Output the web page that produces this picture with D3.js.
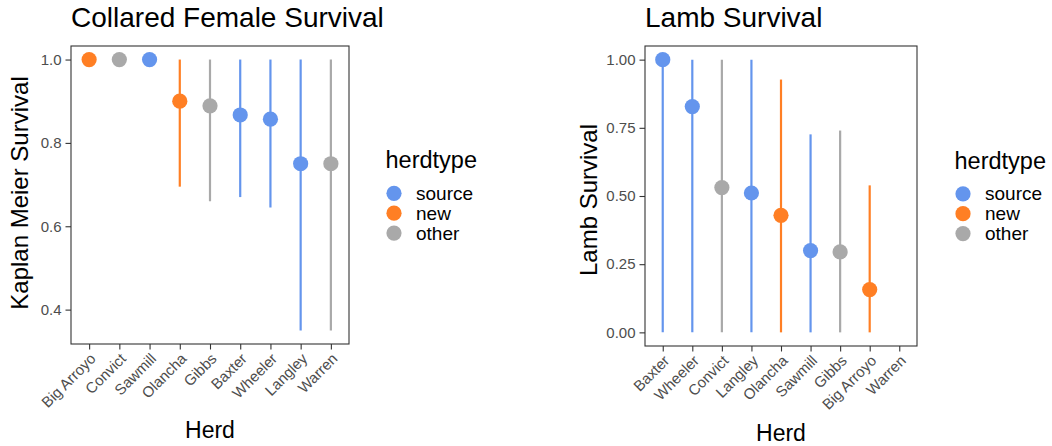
<!DOCTYPE html>
<html>
<head>
<meta charset="utf-8">
<script src="https://cdn.jsdelivr.net/npm/d3@7"></script>
<style>
  body { margin: 0; background: #fff; }
  svg { font-family: "Liberation Sans", Arial, sans-serif; }
</style>
</head>
<body>
<svg id="chart" width="1052" height="446"></svg>
<script>
// collared female survival (Kaplan Meier)
var femaleHerds = ["Big Arroyo", "Convict", "Sawmill", "Olancha", "Gibbs", "Baxter", "Wheeler", "Langley", "Warren"];
var femaleType = ["new", "other", "source", "new", "other", "source", "source", "source", "other"];
var femaleSurv = [1.0, 1.0, 1.0, 0.90, 0.889, 0.867, 0.857, 0.75, 0.75];
var femaleLower = [1.0, 1.0, 1.0, 0.695, 0.66, 0.67, 0.645, 0.35, 0.35];
var femaleUpper = [1.0, 1.0, 1.0, 1.0, 1.0, 1.0, 1.0, 1.0, 1.0];
var femaleTicks = [0.4, 0.6, 0.8, 1.0];

// lamb survival (Warren has no estimate)
var lambHerds = ["Baxter", "Wheeler", "Convict", "Langley", "Olancha", "Sawmill", "Gibbs", "Big Arroyo", "Warren"];
var lambType = ["source", "source", "other", "source", "new", "source", "other", "new", "other"];
var lambSurv = [1.0, 0.828, 0.531, 0.511, 0.429, 0.30, 0.295, 0.157, null];
var lambLower = [0, 0, 0, 0, 0, 0, 0, 0, null];
var lambUpper = [1.0, 1.0, 1.0, 1.0, 0.927, 0.726, 0.74, 0.539, null];
var lambTicks = [0, 0.25, 0.5, 0.75, 1.0];

var herdTypes = ["source", "new", "other"];
var typeColors = ["#6495ED", "#FF7F24", "#A9A9A9"];

var color = d3.scaleOrdinal().domain(herdTypes).range(typeColors);
var svg = d3.select("#chart");

function panel(opt) {
  var rows = opt.herds.map((h, i) => ({
    herd: h, type: opt.type[i], surv: opt.surv[i], lo: opt.lower[i], hi: opt.upper[i]
  }));

  var x = d3.scalePoint()
      .domain(opt.herds)
      .range([opt.left, opt.right])
      .padding(0.6);

  var lo = d3.min(rows, d => d.lo), hi = d3.max(rows, d => d.hi);
  var pad = (hi - lo) * 0.05;
  var y = d3.scaleLinear()
      .domain([lo - pad, hi + pad])
      .range([opt.bottom, opt.top]);

  var g = svg.append("g");

  // title
  g.append("text")
      .attr("x", opt.left).attr("y", 27)
      .style("font-size", "28px")
      .text(opt.title);

  // y axis
  var yAxis = g.append("g")
      .attr("transform", `translate(${opt.left},0)`)
      .call(d3.axisLeft(y).tickValues(opt.ticks).tickFormat(d3.format(opt.fmt)).tickSize(5.5).tickPadding(4));
  yAxis.select(".domain").remove();
  yAxis.selectAll(".tick line").attr("stroke", "#333").attr("stroke-width", 1.1);
  yAxis.selectAll(".tick text")
      .attr("fill", "#4d4d4d")
      .style("font-size", "15px")
      .style("font-family", "Liberation Sans, Arial, sans-serif");

  // x axis
  var xAxis = g.append("g")
      .attr("transform", `translate(0,${opt.bottom})`)
      .call(d3.axisBottom(x).tickSize(5.5).tickFormat(""));
  xAxis.select(".domain").remove();
  xAxis.selectAll(".tick line").attr("stroke", "#333").attr("stroke-width", 1.1);

  g.selectAll(".xlab")
      .data(opt.herds)
      .enter().append("text")
      .attr("class", "xlab")
      .attr("transform", d => `translate(${x(d)},${opt.bottom + 8}) rotate(-45)`)
      .attr("text-anchor", "end")
      .attr("dy", "0.72em")
      .attr("fill", "#4d4d4d")
      .style("font-size", "15px")
      .text(d => d);

  // axis titles
  g.append("text")
      .attr("x", (opt.left + opt.right) / 2).attr("y", opt.xTitleY)
      .attr("text-anchor", "middle")
      .style("font-size", "23px")
      .text("Herd");

  g.append("text")
      .attr("transform", `translate(${opt.yTitleX},${opt.yTitleY}) rotate(-90)`)
      .attr("text-anchor", "middle")
      .style("font-size", "24px")
      .text(opt.ytitle);

  // ranges + points
  var ok = rows.filter(d => d.surv != null);

  g.selectAll(".range")
      .data(ok)
      .enter().append("line")
      .attr("x1", d => x(d.herd)).attr("x2", d => x(d.herd))
      .attr("y1", d => y(d.lo)).attr("y2", d => y(d.hi))
      .attr("stroke", d => color(d.type))
      .attr("stroke-width", 2.2);

  g.selectAll(".pt")
      .data(ok)
      .enter().append("circle")
      .attr("cx", d => x(d.herd))
      .attr("cy", d => y(d.surv))
      .attr("r", 7.6)
      .attr("fill", d => color(d.type));

  // panel border
  g.append("rect")
      .attr("x", opt.left).attr("y", opt.top)
      .attr("width", opt.right - opt.left).attr("height", opt.bottom - opt.top)
      .attr("fill", "none")
      .attr("stroke", "#333")
      .attr("stroke-width", 1.1);

  // legend
  var leg = g.append("g").attr("transform", `translate(${opt.legX},${opt.legY})`);
  leg.append("text")
      .attr("x", 0).attr("y", 0)
      .style("font-size", "23.5px")
      .text("herdtype");
  var items = leg.selectAll(".item")
      .data(herdTypes)
      .enter().append("g")
      .attr("transform", (d, i) => `translate(0,${25.3 + i * 19.9})`);
  items.append("circle")
      .attr("cx", 8.5).attr("cy", 0)
      .attr("r", 7.6)
      .attr("fill", d => color(d));
  items.append("text")
      .attr("x", 30.5).attr("y", 6.5)
      .style("font-size", "19px")
      .text(d => d);
}

panel({
  herds: femaleHerds, type: femaleType, surv: femaleSurv, lower: femaleLower, upper: femaleUpper,
  ticks: femaleTicks, fmt: ".1f",
  title: "Collared Female Survival", ytitle: "Kaplan Meier Survival",
  left: 71, right: 349, top: 46, bottom: 344,
  xTitleY: 438, yTitleX: 28, yTitleY: 193,
  legX: 385.5, legY: 168
});

panel({
  herds: lambHerds, type: lambType, surv: lambSurv, lower: lambLower, upper: lambUpper,
  ticks: lambTicks, fmt: ".2f",
  title: "Lamb Survival", ytitle: "Lamb Survival",
  left: 645, right: 917, top: 46, bottom: 346,
  xTitleY: 441, yTitleX: 597, yTitleY: 200,
  legX: 954.5, legY: 168.5
});
</script>
</body>
</html>
